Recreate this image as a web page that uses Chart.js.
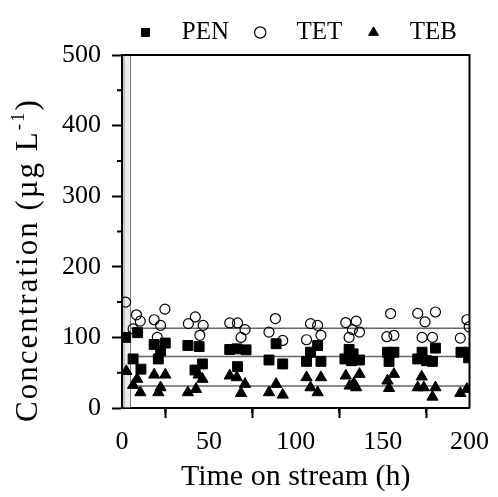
<!DOCTYPE html>
<html>
<head>
<meta charset="utf-8">
<script src="https://cdn.jsdelivr.net/npm/chart.js@4"></script>
<style>
  html, body { margin: 0; padding: 0; background: #fff; }
  #wrap { width: 498px; height: 497px; }
</style>
</head>
<body>
<div id="wrap"><canvas id="chart"></canvas></div>
<script>
// Data (time in h, concentration in µg/L)
const penTime = [2.1, 6.4, 9, 10.9, 18.5, 20.9, 22.2, 24.9, 37.9, 42, 44.4, 46.3, 62, 66.1, 66.5, 71.4,
  84.6, 88.7, 92.5, 106.2, 108.5, 112.6, 114.5, 128.3, 130.7, 132, 133, 136.7, 152.8, 153.7, 156.5,
  170.2, 172.7, 175.3, 178.7, 180.4, 195.1, 199.3, 199.5];
const penConc = [100, 69.5, 106.7, 55, 90, 69.5, 81, 92, 88.6, 53.8, 87, 62.4, 82.9, 83.8, 58.6, 82.4,
  68, 91, 62.4, 66, 79, 88.6, 66, 69.5, 83, 67, 76.7, 68, 79, 66, 79,
  69.5, 79, 67, 66, 84.8, 79, 79, 71];

const tetTime = [2.1, 6.4, 8.3, 10.5, 18.5, 20.3, 22.2, 24.7, 38.2, 42.2, 44.8, 46.7, 62, 66.5, 68.5, 70.8,
  84.6, 88.3, 92.5, 106.2, 108.5, 112.6, 114.5, 128.8, 130.7, 132.6, 134.8, 136.7, 152.4, 154.6, 156.5,
  170.2, 172.7, 174.4, 178.7, 180.4, 194.7, 198.5, 199.8];
const tetConc = [150, 112, 132, 123, 125, 100, 117, 140, 119.5, 129, 103, 117, 120.5, 120.5, 100, 111,
  107.6, 126.7, 95.7, 96.7, 119.5, 117, 103, 121, 100, 111, 123, 107.6, 101, 133.8, 103,
  134, 100, 122, 100, 136, 99, 125, 115];

const tebTime = [2.5, 6.4, 8.7, 10.6, 18.5, 20.9, 22.2, 24.9, 37.9, 42.6, 44.1, 46.3, 62, 66.1, 68.5, 70.8,
  84.6, 88.7, 92.5, 106.2, 108.5, 112.6, 114.5, 128.8, 131, 133.5, 134.8, 136.7, 152.8, 153.7, 156.5,
  170.2, 172.5, 173.7, 178.7, 180.4, 194.7, 198.5];
const tebConc = [52, 32.4, 41, 22, 47, 22, 29, 47, 22, 26.7, 47, 41, 45.7, 43.3, 21, 33.8,
  22, 33.8, 18.6, 43.3, 29, 22, 43.3, 45.7, 31.4, 35, 29, 48, 38.6, 28, 48,
  29, 44.3, 29, 15.7, 29, 21, 26.7];

// mean lines and the initial spike bar
const meanRange = [5, 200];
const meanPen = 73;
const meanTet = 113;
const meanTeb = 31;
const spikeTime = 3;
const spikeConc = 500;

const minorXTicks = [25, 75, 125, 175];
const minorYTicks = [50, 150, 250, 350, 450];

const toPoints = (xs, ys) => xs.map((x, i) => ({ x: x, y: ys[i] }));
const flat = (v) => meanRange.map(x => ({ x: x, y: v }));

Chart.defaults.font.family = '"Liberation Serif", "Times New Roman", serif';
Chart.defaults.color = '#000';

// draws the top/right frame, minor ticks and the y axis title (with superscript)
const framePlugin = {
  id: 'frame',
  afterDraw(chart) {
    const ctx = chart.ctx;
    const a = chart.chartArea;
    const xs = chart.scales.x, ys = chart.scales.y;
    ctx.save();
    ctx.strokeStyle = '#000';
    ctx.lineWidth = 2;
    ctx.beginPath();
    ctx.moveTo(a.left, a.top);
    ctx.lineTo(a.right, a.top);
    ctx.lineTo(a.right, a.bottom);
    ctx.stroke();

    ctx.beginPath();
    minorXTicks.forEach(v => {
      const px = xs.getPixelForValue(v);
      ctx.moveTo(px, a.bottom);
      ctx.lineTo(px, a.bottom + 5);
    });
    minorYTicks.forEach(v => {
      const py = ys.getPixelForValue(v);
      ctx.moveTo(a.left, py);
      ctx.lineTo(a.left - 5, py);
    });
    ctx.stroke();

    // y title
    const big = '31px "Liberation Serif", serif';
    const small = '19px "Liberation Serif", serif';
    const t1 = 'Concentration (\u00b5g L', t2 = '-1', t3 = ')';
    ctx.letterSpacing = '2px';
    ctx.font = big;
    const w1 = ctx.measureText(t1).width, w3 = ctx.measureText(t3).width;
    ctx.font = small;
    const w2 = ctx.measureText(t2).width;
    const total = w1 + w2 + w3;
    ctx.translate(29, 260);
    ctx.rotate(-Math.PI / 2);
    ctx.fillStyle = '#000';
    ctx.textBaseline = 'middle';
    ctx.textAlign = 'left';
    let x0 = -total / 2;
    ctx.font = big;
    ctx.fillText(t1, x0, 0);
    ctx.font = small;
    ctx.fillText(t2, x0 + w1, -10);
    ctx.font = big;
    ctx.fillText(t3, x0 + w1 + w2, 0);
    ctx.restore();
  }
};

const baseLegend = Chart.defaults.plugins.legend.labels.generateLabels;

new Chart(document.getElementById('chart'), {
  type: 'scatter',
  data: {
    datasets: [
      { label: 'PEN', data: toPoints(penTime, penConc), pointStyle: 'rect', pointRadius: 7,
        backgroundColor: '#000', borderColor: '#000', borderWidth: 1 },
      { label: 'TET', data: toPoints(tetTime, tetConc), pointStyle: 'circle', pointRadius: 5,
        backgroundColor: 'rgba(255,255,255,0)', borderColor: '#000', borderWidth: 1.2 },
      { label: 'TEB', data: toPoints(tebTime, tebConc), pointStyle: 'triangle', pointRadius: 6.5,
        backgroundColor: '#000', borderColor: '#000', borderWidth: 1 },
      { type: 'line', label: 'mean TET', data: flat(meanTet), borderColor: '#666', borderWidth: 1.5,
        pointRadius: 0, showLine: true },
      { type: 'line', label: 'mean PEN', data: flat(meanPen), borderColor: '#666', borderWidth: 1.5,
        pointRadius: 0, showLine: true },
      { type: 'line', label: 'mean TEB', data: flat(meanTeb), borderColor: '#666', borderWidth: 1.5,
        pointRadius: 0, showLine: true },
      { type: 'bar', label: 'spike', data: [{ x: spikeTime, y: spikeConc }], barThickness: 7,
        backgroundColor: '#ebebeb', borderColor: '#777', borderWidth: 1 }
    ]
  },
  options: {
    responsive: true,
    maintainAspectRatio: false,
    animation: false,
    layout: { padding: { left: 0, right: 21, top: 0, bottom: 0 } },
    plugins: {
      tooltip: { enabled: false },
      legend: {
        position: 'top',
        align: 'end',
        labels: {
          usePointStyle: true,
          boxWidth: 10,
          boxHeight: 8,
          padding: 20,
          font: { size: 25 },
          color: '#000',
          filter: item => item.datasetIndex < 3,
          generateLabels: chart => baseLegend(chart).map(it => {
            it.text = '   ' + it.text + (it.datasetIndex < 2 ? ' ' : '');
            return it;
          })
        }
      }
    },
    scales: {
      x: {
        type: 'linear',
        min: 0,
        max: 200,
        offset: false,
        afterFit: s => { s.height = 89; },
        ticks: { stepSize: 50, font: { size: 26 }, padding: 9, color: '#000', maxRotation: 0 },
        grid: { drawOnChartArea: false, tickLength: 10, tickWidth: 2, tickColor: '#000' },
        border: { display: true, width: 2, color: '#000' },
        title: { display: true, text: 'Time on stream (h)', font: { size: 30 }, color: '#000',
          padding: { top: 0, bottom: 2 } }
      },
      y: {
        type: 'linear',
        min: 0,
        max: 500,
        afterFit: s => { s.width = 122; },
        ticks: { stepSize: 100, font: { size: 26 }, padding: 11, color: '#000' },
        grid: { drawOnChartArea: false, tickLength: 10, tickWidth: 2, tickColor: '#000' },
        border: { display: true, width: 2, color: '#000' }
      }
    }
  },
  plugins: [framePlugin]
});
</script>
</body>
</html>
